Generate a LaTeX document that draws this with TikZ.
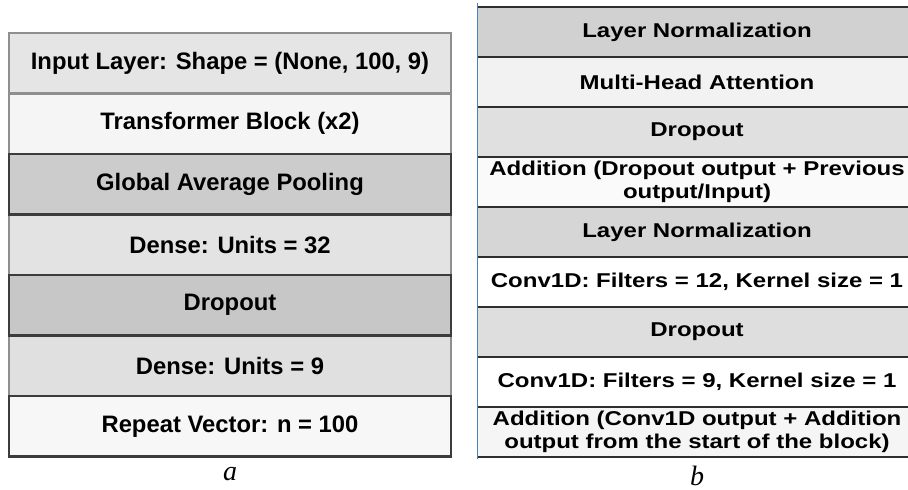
\documentclass[tikz,border=0pt]{standalone}
\usepackage{fontspec}
\setmainfont{Liberation Sans}
\newfontfamily\widesans[FakeStretch=1.2]{Liberation Sans}
\newfontfamily\capserif{Liberation Serif}
\usepackage{xcolor}
\usetikzlibrary{positioning}

\definecolor{liteedge}{HTML}{8F8F8F}
\definecolor{darkedge}{HTML}{3C3C3C}
\definecolor{ruleedge}{HTML}{2E2E2E}
\definecolor{sideedge}{HTML}{4F7FBD}

\begin{document}
\begin{tikzpicture}[
  x=1pt, y=-1pt,
  node distance=0pt,
  layer/.style={draw=liteedge, line width=2.8pt, minimum width=442pt, minimum height=60.5pt,
    inner sep=0pt, outer sep=0pt, font=\fontsize{23.8}{27}\selectfont\bfseries},
  darklayer/.style={layer, draw=darkedge},
  block/.style={minimum width=440pt, minimum height=50pt, inner sep=0pt, outer sep=0pt,
    align=center, font=\widesans\fontsize{20}{23}\selectfont\bfseries},
  rule/.style={draw=ruleedge, line width=2.8pt},
  caption/.style={font=\capserif\itshape\fontsize{28}{28}\selectfont}
]
\clip (0,0) rectangle (908,490);

\node[layer, fill=black!10, anchor=north] (inp) at (230,33) {Input Layer: Shape = (None, 100, 9)};
\node[layer, fill=black!4, below=of inp] (tblock) {Transformer Block (x2)};
\node[darklayer, fill=black!20, below=of tblock] (gap) {Global Average Pooling};
\node[layer, fill=black!11, below=of gap] (dense32) {Dense: Units = 32};
\node[darklayer, fill=black!22, below=of dense32] (drop) {Dropout};
\node[layer, fill=black!12, below=of drop] (dense9) {Dense: Units = 9};
\node[darklayer, fill=black!3, below=of dense9] (rep) {Repeat Vector: n = 100};
\foreach \n in {gap,drop,rep}
  \draw[darkedge, line width=2.8pt] (\n.north west) rectangle (\n.south east);

\node[block, fill=black!18, anchor=north] (lna) at (697,7) {Layer Normalization};
\node[block, fill=black!5, below=of lna] (mha) {Multi-Head Attention};
\node[block, fill=black!12, below=of mha] (dropa) {Dropout};
\node[block, fill=black!2, below=of dropa] (adda) {Addition (Dropout output + Previous\\output/Input)};
\node[block, fill=black!16, below=of adda] (lnb) {Layer Normalization};
\node[block, fill=white, below=of lnb] (convc) {Conv1D: Filters = 12, Kernel size = 1};
\node[block, fill=black!13, below=of convc] (dropb) {Dropout};
\node[block, fill=white, below=of dropb] (convd) {Conv1D: Filters = 9, Kernel size = 1};
\node[block, fill=black!4, below=of convd] (addb) {Addition (Conv1D output + Addition\\output from the start of the block)};
\foreach \n in {lna,mha,dropa,adda,lnb,convc,dropb,convd,addb}
  \draw[rule] (\n.north west) -- (\n.north east);
\draw[rule] (addb.south west) -- (addb.south east);
\draw[sideedge, line width=1pt] ([yshift=4pt]lna.north west) -- ([yshift=-2pt]addb.south west);

\node[caption] (capa) at (230,474) {a};
\node[caption] (capb) at (697,476) {b};
\end{tikzpicture}
\end{document}
